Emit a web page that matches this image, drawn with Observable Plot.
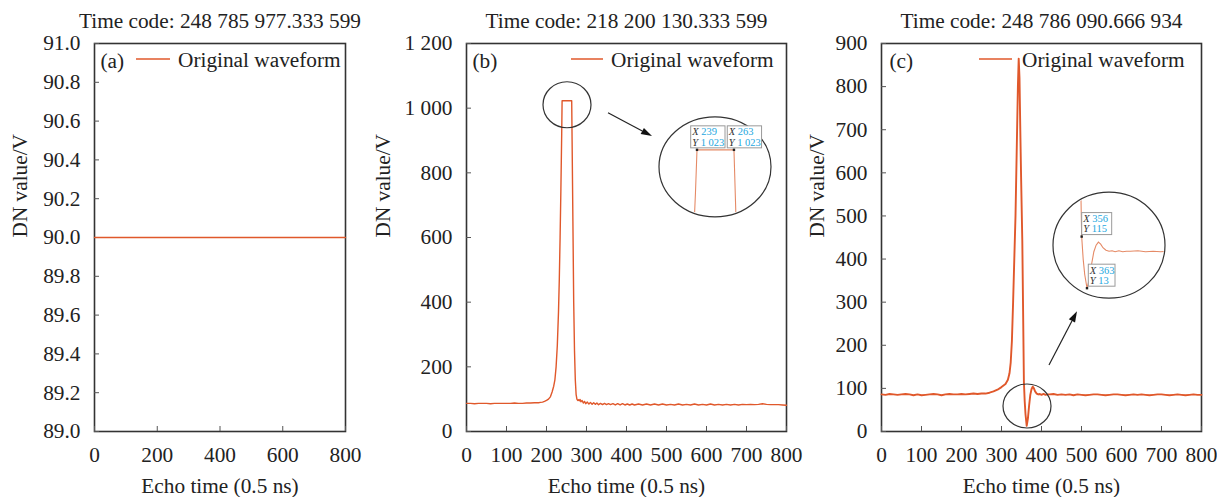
<!DOCTYPE html>
<html><head><meta charset="utf-8">
<script src="https://cdn.jsdelivr.net/npm/d3@7"></script>
<script src="https://cdn.jsdelivr.net/npm/@observablehq/plot@0.6"></script>
<style>
body{margin:0;background:#fff;}
#wrap{position:relative;width:1217px;height:497px;overflow:hidden;background:#fff;}
#wrap svg{position:absolute;top:0;}
</style></head><body><div id="wrap"></div>
<script>
// ---------- data ----------
const titles = ["Time code: 248 785 977.333 599", "Time code: 218 200 130.333 599", "Time code: 248 786 090.666 934"];
const panelTags = ["(a)", "(b)", "(c)"];
const legendLabel = "Original waveform";
const xLabel = "Echo time (0.5 ns)";
const yLabel = "DN value/V";

const xTicksA = [0, 200, 400, 600, 800];
const xTicksBC = [0, 100, 200, 300, 400, 500, 600, 700, 800];
const yTicksA = [89.0, 89.2, 89.4, 89.6, 89.8, 90.0, 90.2, 90.4, 90.6, 90.8, 91.0];
const yTicksB = [0, 200, 400, 600, 800, 1000, 1200];
const yTicksC = [0, 100, 200, 300, 400, 500, 600, 700, 800, 900];

// (a) constant waveform
const aX = [0, 100, 200, 300, 400, 500, 600, 700, 800];
const aY = [90, 90, 90, 90, 90, 90, 90, 90, 90];

// (b) saturated echo
const bX = [0,10,20,30,40,50,60,70,80,90,100,110,120,130,140,150,160,170,180,185,190,195,200,205,210,214,218,221,224,227,230,232,234,236,238,239,245,250,255,263,264,266,268,270,272,274,276,278,280,282,284,286,289,292,295,298,302,306,310,314,318,322,326,330,335,340,345,350,355,360,366,372,378,384,390,396,402,408,414,420,430,440,450,460,470,480,490,500,510,520,530,540,550,560,570,580,590,600,610,620,630,640,650,660,670,680,690,700,710,720,730,740,750,760,770,780,790,800];
const bY = [87,87,86,87,87,87,86,87,87,87,87,87,88,87,87,88,88,89,89,90,91,93,96,100,108,122,140,160,200,265,370,470,600,750,920,1023,1023,1023,1023,1023,900,650,400,250,160,115,100,96,98,95,99,92,96,88,93,86,91,85,90,84,89,84,88,83,87,83,87,83,86,83,86,82,86,82,86,82,85,82,85,82,85,82,85,82,85,82,85,82,84,82,85,82,84,82,85,82,84,82,85,82,84,82,84,82,84,82,84,83,84,83,84,86,84,83,83,83,82,81];

// (c) normal echo with undershoot
const cX = [0,10,20,30,40,50,60,70,80,90,100,110,120,130,140,150,160,170,180,190,200,210,220,230,240,250,260,270,280,290,300,310,316,320,323,326,329,332,335,338,341,343,345,347,349,352,354,356,358,360,363,366,369,372,375,378,381,384,388,392,396,400,405,410,415,420,430,440,450,460,470,480,490,500,510,520,530,540,550,560,570,580,590,600,610,620,630,640,650,660,670,680,690,700,710,720,730,740,750,760,770,780,790,800];
const cY = [86,85,87,86,85,86,87,86,84,86,84,85,86,87,86,84,86,87,86,86,87,86,87,88,87,88,88,90,93,97,103,110,120,135,160,210,300,400,500,650,800,865,820,700,590,443,280,115,70,40,13,30,60,85,98,104,100,93,88,86,87,85,87,85,86,86,87,85,86,85,86,84,86,85,84,85,86,86,85,84,85,86,86,85,84,85,86,85,86,85,84,85,86,86,85,84,85,86,85,84,85,86,85,85];

// annotation anchors, in data units
const spotB = [252.5, 1009];
const lensB = [622.5, 817];
const arrowB = [355, 984, 465, 912];
const pointsB = [[239, 1023], [263, 1023]];
const spotC = [365, 58];
const lensC = [570, 431];
const arrowC = [420, 153, 490, 278];
const pointsC = [[356, 115], [363, 13]];

// ---------- styling ----------
const COLOR = "#e0582b";
const FONT = "'Liberation Serif', 'Times New Roman', serif";
const FS = 21.3;
const fmtSpace = d => d3.format(",")(d).replace(/,/g, " ");

const panels = [
  {left: 0, width: 360, ml: 94, mr: 15, xs: aX, ys: aY, xt: xTicksA, yt: yTicksA, dom: [89, 91], yfmt: d => d.toFixed(1),
   ylab: -74, tagDx: 6, leg: [42, 76, 84], sw: 1.3},
  {left: 365, width: 430, ml: 101, mr: 9, xs: bX, ys: bY, xt: xTicksBC, yt: yTicksB, dom: [0, 1200], yfmt: fmtSpace,
   ylab: -83, tagDx: 6, leg: [105, 137, 145], sw: 1.4,
   inset: {spot: spotB, spotR: [24, 23], lens: lensB, lensR: [56, 50], arrow: arrowB,
     ref: pointsB[0], at: [-18, -17], k: [1.54, 0.42], win: [200, 300],
     boxes: [{p: pointsB[0], dx: -6.3, w: 34.3}, {p: pointsB[1], dx: -6.7, w: 34.3}]}},
  {left: 800, width: 417, ml: 81, mr: 16, xs: cX, ys: cY, xt: xTicksBC, yt: yTicksC, dom: [0, 900], yfmt: d => String(d),
   ylab: -64, tagDx: 8, leg: [98, 131, 141], sw: 1.9,
   inset: {spot: spotC, spotR: [24, 22], lens: lensC, lensR: [56, 53], arrow: arrowC,
     ref: pointsC[1], at: [-22, 43], k: [0.76, 0.506], win: [300, 520],
     boxes: [{p: pointsC[0], dx: 0, w: 30}, {p: pointsC[1], dx: 1.3, w: 26.7}]}}
];

const H = 497, MT = 43, MB = 66;
const wrap = document.getElementById("wrap");
const txt = {fill: "#222", fontFamily: FONT, fontSize: FS, lineAnchor: "middle"};

panels.forEach((cfg, i) => {
  const series = cfg.xs.map((x, j) => ({x, y: cfg.ys[j]}));
  const innerW = cfg.width - cfg.ml - cfg.mr;
  const innerH = H - MT - MB;

  const legendMark = (index, scales, values, dims) => {
    const g = d3.create("svg:g");
    g.append("line")
      .attr("x1", dims.marginLeft + cfg.leg[0]).attr("x2", dims.marginLeft + cfg.leg[1])
      .attr("y1", MT + 16).attr("y2", MT + 16)
      .attr("stroke", COLOR).attr("stroke-width", 1.5);
    g.append("text")
      .attr("x", dims.marginLeft + cfg.leg[2]).attr("y", MT + 17).attr("dy", "0.32em")
      .attr("text-anchor", "start").attr("font-family", FONT)
      .attr("fill", "#222").attr("font-size", FS).text(legendLabel);
    return g.node();
  };

  const marks = [
    Plot.frame({stroke: "#333", strokeWidth: 1.6}),
    Plot.tickX(cfg.xt, {x: d => d, insetTop: innerH - 5, stroke: "#555"}),
    Plot.tickY(cfg.yt, {y: d => d, insetRight: innerW - 5, stroke: "#555"}),
    Plot.axisX({ticks: cfg.xt, tickSize: 0, tickPadding: 15, label: null, tickFormat: d => String(d), fontFamily: FONT, fontSize: FS, fill: "#222"}),
    Plot.axisY({ticks: cfg.yt, tickSize: 0, tickPadding: 14, label: null, tickFormat: cfg.yfmt, fontFamily: FONT, fontSize: FS, fill: "#222"}),
    Plot.line(series, {x: "x", y: "y", stroke: COLOR, strokeWidth: cfg.sw}),
    Plot.text([titles[i]], {...txt, frameAnchor: "top", dy: -22}),
    Plot.text([xLabel], {...txt, frameAnchor: "bottom", dy: 55}),
    Plot.text([yLabel], {...txt, frameAnchor: "left", dx: cfg.ylab, rotate: -90}),
    Plot.text([panelTags[i]], {...txt, frameAnchor: "top-left", dx: cfg.tagDx, dy: 18, textAnchor: "start"}),
    legendMark
  ];

  if (cfg.inset) {
    const ins = cfg.inset;
    marks.push((index, {x, y}) => {
      const g = d3.create("svg:g");
      g.append("ellipse").attr("cx", x(ins.spot[0])).attr("cy", y(ins.spot[1]))
        .attr("rx", ins.spotR[0]).attr("ry", ins.spotR[1])
        .attr("fill", "none").attr("stroke", "#333").attr("stroke-width", 1.2);
      const x1 = x(ins.arrow[0]), y1 = y(ins.arrow[1]), x2 = x(ins.arrow[2]), y2 = y(ins.arrow[3]);
      const ang = Math.atan2(y2 - y1, x2 - x1), L = 11, Wd = 3.5;
      const bx = x2 - L * Math.cos(ang), by = y2 - L * Math.sin(ang);
      g.append("line").attr("x1", x1).attr("y1", y1).attr("x2", bx).attr("y2", by)
        .attr("stroke", "#222").attr("stroke-width", 1.2);
      g.append("path").attr("fill", "#111")
        .attr("d", `M${x2},${y2}L${bx - Wd * Math.sin(ang)},${by + Wd * Math.cos(ang)}L${bx + Wd * Math.sin(ang)},${by - Wd * Math.cos(ang)}Z`);
      const cx = x(ins.lens[0]), cy = y(ins.lens[1]);
      const clipId = "lensclip" + i;
      g.append("clipPath").attr("id", clipId).append("ellipse")
        .attr("cx", cx).attr("cy", cy).attr("rx", ins.lensR[0] - 1).attr("ry", ins.lensR[1] - 1);
      g.append("ellipse").attr("cx", cx).attr("cy", cy).attr("rx", ins.lensR[0]).attr("ry", ins.lensR[1])
        .attr("fill", "#fff").attr("stroke", "#333").attr("stroke-width", 1.2);
      const px = d => cx + ins.at[0] + (d.x - ins.ref[0]) * ins.k[0];
      const py = d => cy + ins.at[1] - (d.y - ins.ref[1]) * ins.k[1];
      const sub = series.filter(d => d.x >= ins.win[0] && d.x <= ins.win[1]);
      g.append("path").attr("clip-path", `url(#${clipId})`)
        .attr("d", d3.line().x(px).y(py)(sub))
        .attr("fill", "none").attr("stroke", "#e58a66").attr("stroke-width", 1.1);
      ins.boxes.forEach(b => {
        const p = {x: b.p[0], y: b.p[1]};
        const X = px(p), Y = py(p);
        const bl = X + b.dx, bh = 22, bb = Y - 2;
        g.append("rect").attr("x", bl).attr("y", bb - bh).attr("width", b.w).attr("height", bh)
          .attr("fill", "#fff").attr("stroke", "#9a9a9a").attr("stroke-width", 1);
        g.append("rect").attr("x", X - 1.2).attr("y", Y - 1.2).attr("width", 2.4).attr("height", 2.4).attr("fill", "#222");
        const lines = [["X", fmtSpace(b.p[0])], ["Y", fmtSpace(b.p[1])]];
        lines.forEach((ln, k) => {
          const t = g.append("text").attr("x", bl + 1.5).attr("y", bb - bh + 5.8 + k * 10.4).attr("dy", "0.35em")
            .attr("font-size", 10.5).attr("text-anchor", "start").attr("font-family", FONT);
          t.append("tspan").attr("font-style", "italic").attr("fill", "#333").text(ln[0]);
          t.append("tspan").attr("fill", "#1ea7e0").text(" " + ln[1]);
        });
      });
      return g.node();
    });
  }

  const chart = Plot.plot({
    width: cfg.width,
    height: H,
    marginLeft: cfg.ml,
    marginRight: cfg.mr,
    marginTop: MT,
    marginBottom: MB,
    x: {domain: [0, 800]},
    y: {domain: cfg.dom},
    style: {fontFamily: FONT, fontSize: FS + "px", color: "#222", background: "transparent", overflow: "visible"},
    marks
  });
  chart.style.left = cfg.left + "px";
  wrap.appendChild(chart);
});
</script>
</body></html>
